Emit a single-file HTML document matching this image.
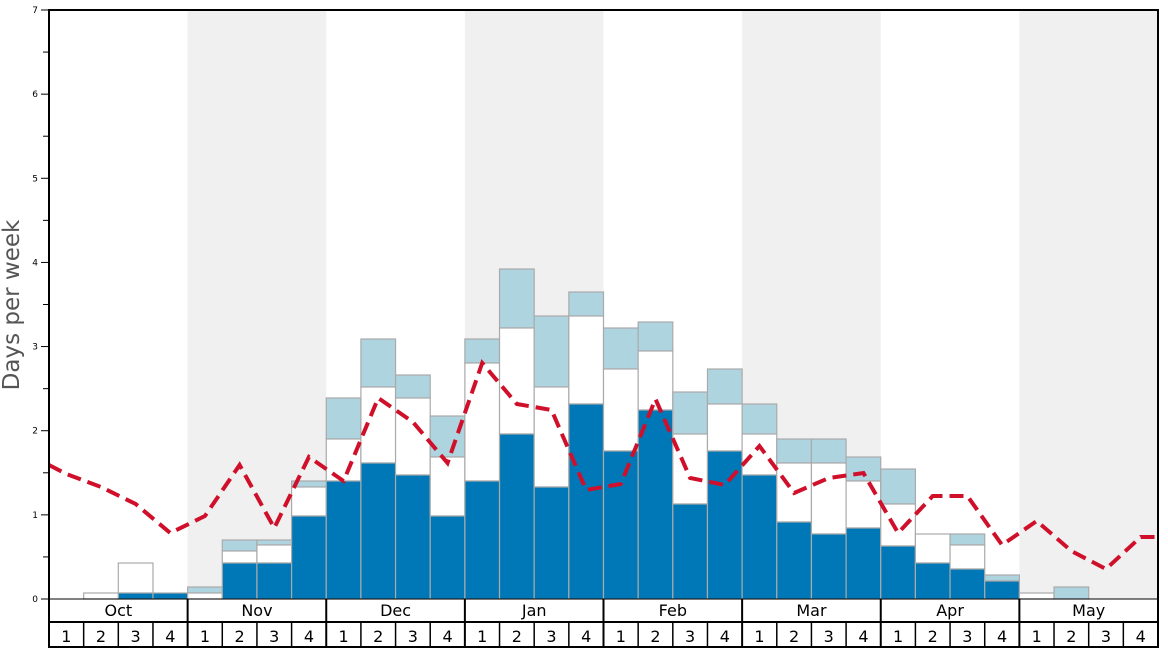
<!DOCTYPE html>
<html><head><meta charset="utf-8"><style>body{margin:0;background:#fff}svg{display:block}</style></head><body>
<svg id="s" width="1168" height="648" xmlns="http://www.w3.org/2000/svg" font-family="DejaVu Sans, Liberation Sans, sans-serif"></svg>
<script>
const s=document.getElementById('s');let h='';
const X0=49,W=(1158-49)/32,Y0=599,U=(599-10)/7;
for(let m=1;m<8;m+=2)h+=`<rect x="${X0+m*4*W}" y="10" width="${4*W}" height="589" fill="#f0f0f0"/>`;
const b=[[599,599,599],[599,593,593],[593,563,563],[593,593,593],[599,593,587],[563,551,540],[563,545,540],[516,487,481],[481,439,398],[463,387,339],[475,398,375],[516,457,416],[481,363,339],[434,328,269],[487,387,316],[404,316,292],[451,369,328],[410,351,322],[504,434,392],[451,404,369],[475,434,404],[522,463,439],[534,463,439],[528,481,457],[546,504,469],[563,534,534],[569,545,534],[581,581,575],[599,593,593],[599,599,587],[599,599,599],[599,599,599]];
b.forEach((v,i)=>{const x=X0+i*W;const st='stroke="#aaa" stroke-width="1.2"';
if(v[2]<v[1])h+=`<rect x="${x}" y="${v[2]}" width="${W}" height="${v[1]-v[2]}" fill="#aed4e0" ${st}/>`;
if(v[1]<v[0])h+=`<rect x="${x}" y="${v[1]}" width="${W}" height="${v[0]-v[1]}" fill="#fff" ${st}/>`;
if(v[0]<599)h+=`<rect x="${x}" y="${v[0]}" width="${W}" height="${599-v[0]}" fill="#0077b6" ${st}/>`;});
const ly=[474,487,504,533,516,465,528,457,481,398,422,463,363,404,410,490,484,399,478,485,446,493,478,473,533,496,496,545,521,551,569,537];
let p=`M49,465`;ly.forEach((y,i)=>p+=` L${X0+(i+.5)*W},${y}`);p+=` L1158,537`;
h+=`<path d="${p}" fill="none" stroke="#d0102b" stroke-width="4" stroke-dasharray="14,7"/>`;
for(let k=0;k<=14;k++){const y=Y0-k*U/2;h+=`<line x1="${k%2?43:41}" x2="49" y1="${y}" y2="${y}" stroke="#000" stroke-width="1"/>`;if(k%2==0)h+=`<text x="38" y="${y+3}" font-size="9" text-anchor="end">${k/2}</text>`;}
h+=`<rect x="49" y="10" width="1109" height="637" fill="none" stroke="#000" stroke-width="2"/>`;
h+=`<line x1="49" x2="1158" y1="599" y2="599" stroke="#000" stroke-width="1"/><line x1="49" x2="1158" y1="622" y2="622" stroke="#000" stroke-width="2"/>`;
const mo=['Oct','Nov','Dec','Jan','Feb','Mar','Apr','May'];
mo.forEach((m,i)=>{const x=X0+i*4*W;if(i)h+=`<line x1="${x}" x2="${x}" y1="599" y2="647" stroke="#000" stroke-width="2"/>`;h+=`<text x="${x+2*W}" y="616" font-size="16" text-anchor="middle">${m}</text>`;
for(let w=0;w<4;w++){const wx=x+w*W;if(w)h+=`<line x1="${wx}" x2="${wx}" y1="622" y2="647" stroke="#000" stroke-width="1.5"/>`;h+=`<text x="${wx+W/2}" y="642" font-size="16" text-anchor="middle">${w+1}</text>`;}});
h+=`<text transform="translate(19,305) rotate(-90)" font-size="23" fill="#555" text-anchor="middle">Days per week</text>`;
s.innerHTML=h;
</script></body></html>
